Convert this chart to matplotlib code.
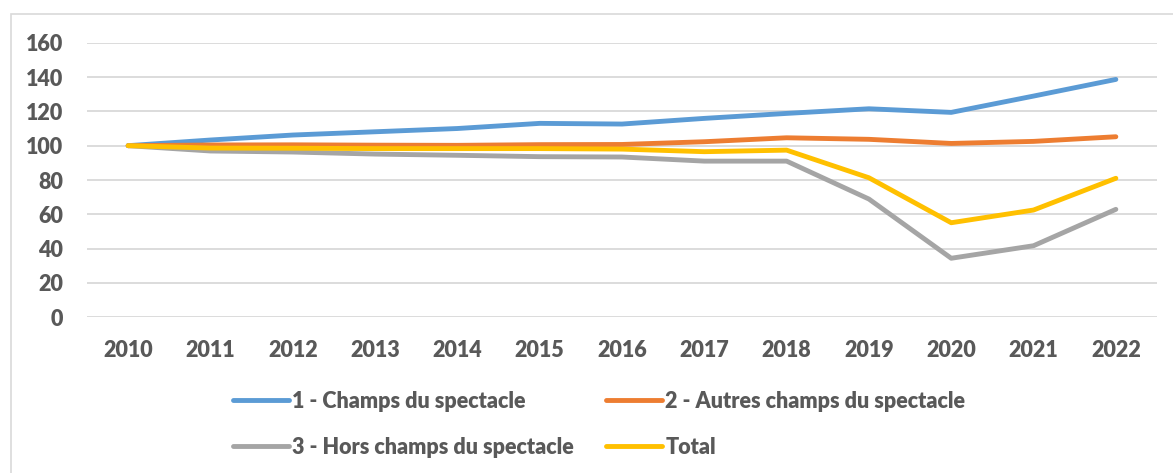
import matplotlib.pyplot as plt
from matplotlib.patches import Rectangle

# Data (index, base 100 in 2010)
years = ["2010", "2011", "2012", "2013", "2014", "2015", "2016",
         "2017", "2018", "2019", "2020", "2021", "2022"]
champs = [100, 103.3, 106.2, 108.1, 110.0, 113.0, 112.6, 115.9, 118.8, 121.5, 119.4, 128.9, 138.6]
autres = [100, 100.4, 100.5, 100.3, 100.2, 100.6, 100.7, 102.3, 104.6, 103.7, 101.3, 102.5, 105.2]
hors = [100, 96.9, 96.3, 95.1, 94.4, 93.6, 93.4, 91.0, 91.0, 68.9, 34.4, 41.7, 62.9]
total = [100, 98.6, 98.5, 98.3, 98.3, 98.3, 98.0, 96.5, 97.4, 81.3, 55.1, 62.5, 81.0]

labels = ["1 - Champs du spectacle", "2 - Autres champs du spectacle",
          "3 - Hors champs du spectacle", "Total"]
colors = ["#5B9BD5", "#ED7D31", "#A5A5A5", "#FFC000"]

plt.rcParams['font.family'] = ['Lato', 'DejaVu Sans']
plt.rcParams['font.weight'] = 'heavy'
txt = "#595959"
fs = 15.5

fig = plt.figure(figsize=(11.73, 4.73), dpi=100)
ax = fig.add_axes([87 / 1173, 1 - 317.3 / 473, (1157 - 87) / 1173, (317.3 - 42.7) / 473])

# outer chart border (runs off the right and bottom edges)
fig.patches.append(Rectangle((11 / 1173, -0.1), 1.2, 1 - 14 / 473 + 0.1,
                             transform=fig.transFigure, fill=False,
                             edgecolor="#D9D9D9", linewidth=1.2))

x = range(len(years))
lines = []
for ys, lab, c in zip([champs, autres, hors, total], labels, colors):
    ln, = ax.plot(x, ys, color=c, linewidth=3.5, solid_capstyle='round',
                  solid_joinstyle='round', label=lab)
    lines.append(ln)

ax.set_xlim(-0.5, len(years) - 0.5)
ax.set_ylim(0, 160)
ax.set_yticks(range(0, 161, 20))
ax.set_xticks(list(x))
ax.set_xticklabels(years)
ax.yaxis.grid(True, color="#D9D9D9", linewidth=1.3)
ax.set_axisbelow(True)
for s in ax.spines.values():
    s.set_visible(False)
ax.tick_params(axis='y', length=0, pad=17, labelsize=fs, labelcolor=txt)
ax.tick_params(axis='x', length=0, pad=16, labelsize=fs, labelcolor=txt)

# legend filled row by row like the original: 1 | 2 / 3 | Total
order = [0, 2, 1, 3]
fig.legend([lines[i] for i in order], [labels[i] for i in order],
           loc='upper left', bbox_to_anchor=(233 / 1173, 1 - 391 / 473),
           ncol=2, frameon=False, fontsize=fs, labelcolor=txt,
           handlelength=2.6, handletextpad=0.15, columnspacing=1.5,
           labelspacing=1.15, borderpad=0, borderaxespad=0)

fig.savefig("out.png", dpi=100)
